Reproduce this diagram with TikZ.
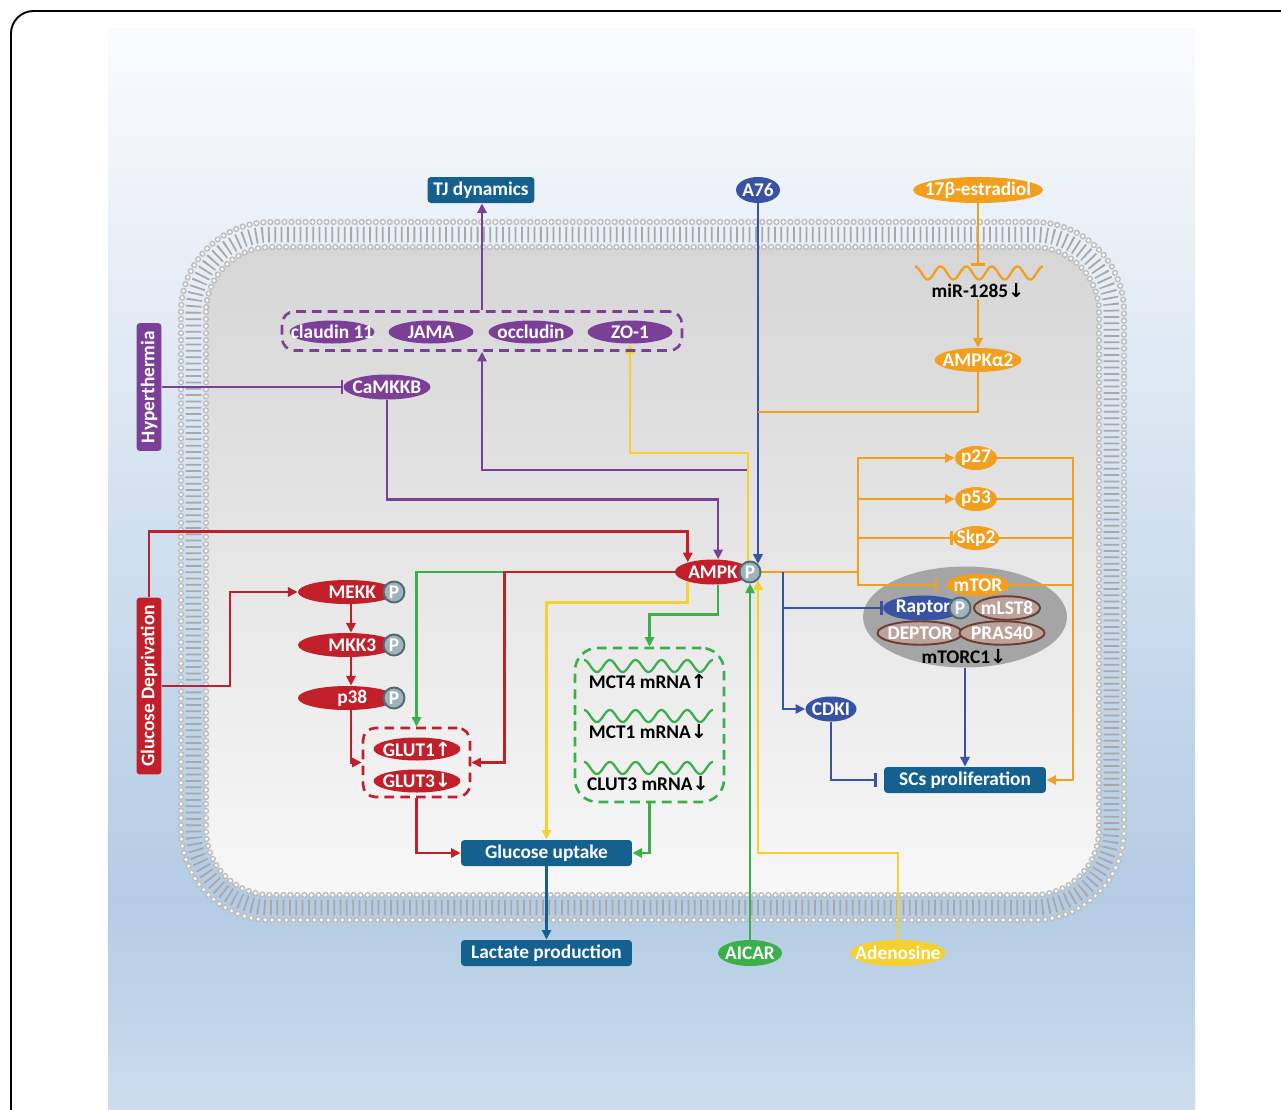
\documentclass[tikz,border=0pt]{standalone}
\usepackage{fontspec}
\setmainfont{Carlito}
\newfontfamily\arrfont{DejaVu Sans}
\usepackage{tikz}
\usetikzlibrary{arrows.meta,calc,shapes.geometric}

\definecolor{boxblue}{RGB}{20,96,143}
\definecolor{nodeblue}{RGB}{56,83,164}
\definecolor{ampred}{RGB}{193,32,42}
\definecolor{pathpurple}{RGB}{124,63,152}
\definecolor{pathgreen}{RGB}{59,176,74}
\definecolor{pathorange}{RGB}{242,159,29}
\definecolor{pathyellow}{RGB}{246,208,47}
\definecolor{pfill}{RGB}{159,179,186}
\definecolor{pedge}{RGB}{79,106,116}
\definecolor{cxfill}{RGB}{187,163,156}
\definecolor{cxedge}{RGB}{109,61,51}
\definecolor{cxgray}{RGB}{165,165,165}
\definecolor{bgtop}{RGB}{250,251,253}
\definecolor{bgmid}{RGB}{179,204,228}
\definecolor{bgbot}{RGB}{204,220,236}
\definecolor{celltop}{RGB}{214,214,214}
\definecolor{cellbot}{RGB}{247,247,248}
\definecolor{lipid}{RGB}{188,188,188}
\definecolor{lipidtail}{RGB}{168,168,168}

\pgfdeclarelayer{back}
\pgfdeclarelayer{links}
\pgfsetlayers{back,links,main}

\newcommand{\tx}[1]{\makebox[0pt]{#1}}
\newcommand{\up}{{\arrfont\bfseries ↑}}
\newcommand{\dn}{{\arrfont\bfseries ↓}}

\begin{document}
\begin{tikzpicture}[x=0.02cm, y=-0.02cm,
    font=\fontsize{11}{13}\selectfont\bfseries,
    pill/.style={ellipse, inner sep=0pt, fill=#1, text=white, minimum height=0.48cm},
    pbox/.style={rectangle, rounded corners=2pt, fill=#1, text=white, minimum height=0.52cm, inner sep=0pt},
    phos/.style={circle, fill=pfill, draw=pedge, line width=1.1pt, text=white, minimum size=0.42cm, inner sep=0pt},
    cplx/.style={ellipse, inner sep=0pt, fill=cxfill, draw=cxedge, line width=1.1pt, text=white, minimum height=0.47cm},
    dbox/.style={rectangle, draw=#1, rounded corners=0.25cm, line width=1.5pt, dash pattern=on 5.5pt off 3.5pt, inner sep=0pt},
    lbl/.style={text=black, inner sep=0.5pt},
    link/.style={draw=#1, line width=1.5pt},
    arr/.style={-{Triangle[length=5.5pt,width=5.2pt]}},
    inh/.style={-{Bar[width=8pt]}}]
\useasboundingbox (0,0) rectangle (1281,1109);

\begin{pgfonlayer}{back}
\fill[white] (0,0) rectangle (1281,1109);
\shade[top color=bgtop, bottom color=bgmid] (108,28) rectangle (1195,900);
\shade[top color=bgmid, bottom color=bgbot] (108,899) rectangle (1195,1109);
\begin{scope}
\clip (0,0) rectangle (1281,1109);
\draw[line width=1.1pt, rounded corners=0.45cm] (11,11) rectangle (1340,1170);
\end{scope}
\shade[top color=celltop, bottom color=cellbot, rounded corners=1.3cm] (206,247) rectangle (1099,895);
\draw[lipidtail, line width=9pt, dash pattern=on 1pt off 2.6pt, rounded corners=1.55cm] (193.5,234.5) rectangle (1111.5,907.5);
\draw[lipid, line width=3.6pt, line cap=round, dash pattern=on 0pt off 4pt, rounded corners=1.8cm] (181,222) rectangle (1124,920);
\draw[white, line width=2pt, line cap=round, dash pattern=on 0pt off 4pt, rounded corners=1.8cm] (181,222) rectangle (1124,920);
\draw[lipid, line width=3.6pt, line cap=round, dash pattern=on 0pt off 4pt, rounded corners=1.3cm] (206,247) rectangle (1099,895);
\draw[white, line width=2pt, line cap=round, dash pattern=on 0pt off 4pt, rounded corners=1.3cm] (206,247) rectangle (1099,895);
\node[ellipse, fill=cxgray, minimum width=4.08cm, minimum height=2.02cm, inner sep=0pt] (mtorc1) at (965,617) {};
\end{pgfonlayer}

\node[pbox=boxblue, minimum width=2.14cm] (tj) at (481,190) {TJ dynamics};
\node[pill=nodeblue, minimum width=0.88cm, minimum height=0.52cm] (a76) at (758,190) {\tx{A76}};
\node[pill=pathorange, minimum width=2.6cm, minimum height=0.52cm] (estr) at (978,190) {\tx{17β-estradiol}};

\draw[pathorange, line width=1.3pt] plot[domain=0:5, samples=121] ({915+25.6*\x},{273-6.5*cos(360*\x)});
\coordinate (mirtop) at (978,266);
\node[lbl] (mir) at (978,291) {miR-1285\dn};
\node[pill=pathorange, minimum width=1.74cm] (ampka2) at (978,360) {\tx{AMPKα2}};
\coordinate (a76join) at (758,412);

\node[dbox=pathpurple, minimum width=8cm, minimum height=0.78cm] (tjbox) at (482,331) {};
\node[pill=pathpurple, minimum width=1.7cm, minimum height=0.46cm] (cld) at (332,332) {\tx{claudin 11}};
\node[pill=pathpurple, minimum width=1.7cm, minimum height=0.46cm] (jama) at (431,332) {\tx{JAMA}};
\node[pill=pathpurple, minimum width=1.7cm, minimum height=0.46cm] (ocln) at (531,332) {\tx{occludin}};
\node[pill=pathpurple, minimum width=1.7cm, minimum height=0.46cm] (zo1) at (630,332) {\tx{ZO-1}};

\node[pbox=pathpurple, rotate=90, minimum width=2.56cm, minimum height=0.5cm] (hyper) at (149,387) {Hyperthermia};
\node[pill=pathpurple, minimum width=1.74cm, minimum height=0.5cm] (camkkb) at (387,387) {\tx{CaMKKB}};
\node[pbox=ampred, rotate=90, minimum width=3.54cm, minimum height=0.5cm] (gd) at (149,686) {Glucose Deprivation};

\node[pill=ampred, minimum width=1.96cm] (mekk) at (347,592) {\tx{\hspace{6pt}MEKK}};
\node[phos] (mekkp) at (394,592) {P};
\node[pill=ampred, minimum width=1.96cm] (mkk3) at (347,645) {\tx{\hspace{6pt}MKK3}};
\node[phos] (mkk3p) at (394,645) {P};
\node[pill=ampred, minimum width=1.96cm] (p38) at (347,698) {\tx{\hspace{6pt}p38}};
\node[phos] (p38p) at (394,698) {P};

\node[dbox=ampred, minimum width=2.14cm, minimum height=1.38cm] (glutbox) at (416.5,762.5) {};
\node[pill=ampred, minimum width=1.74cm, minimum height=0.46cm] (glut1) at (417,749) {\tx{GLUT1\up}};
\node[pill=ampred, minimum width=1.74cm, minimum height=0.46cm] (glut3) at (417,781) {\tx{GLUT3\dn}};

\node[pill=ampred, minimum width=1.52cm, minimum height=0.5cm] (ampk) at (713,572) {\tx{AMPK}};
\node[phos] (ampkp) at (750,572) {P};

\node[dbox=pathgreen, rounded corners=0.45cm, minimum width=2.98cm, minimum height=3.08cm] (mrnabox) at (649.5,725) {};
\draw[pathgreen, line width=1.3pt] plot[domain=0:5, samples=121] ({584+25.8*\x},{666-6*cos(360*\x)});
\draw[pathgreen, line width=1.3pt] plot[domain=0:5, samples=121] ({584+25.8*\x},{716-6*cos(360*\x)});
\draw[pathgreen, line width=1.3pt] plot[domain=0:5, samples=121] ({584+25.8*\x},{768-6*cos(360*\x)});
\node[lbl] (mct4) at (648,681) {MCT4 mRNA\up};
\node[lbl] (mct1) at (648,732) {MCT1 mRNA\dn};
\node[lbl] (clut3) at (648,784) {CLUT3 mRNA\dn};

\node[pbox=boxblue, minimum width=3.42cm] (gu) at (546.5,853) {Glucose uptake};
\node[pbox=boxblue, minimum width=3.42cm] (lp) at (546.5,953) {Lactate production};
\node[pill=pathgreen, minimum width=1.28cm, minimum height=0.52cm] (aicar) at (750,953) {\tx{AICAR}};
\node[pill=pathyellow, minimum width=1.92cm, minimum height=0.52cm] (adeno) at (898,953) {\tx{Adenosine}};

\node[pill=pathorange, minimum width=0.84cm] (p27) at (976,458) {\tx{p27}};
\node[pill=pathorange, minimum width=0.84cm] (p53) at (976,499) {\tx{p53}};
\node[pill=pathorange, minimum width=0.92cm] (skp2) at (976,538) {\tx{Skp2}};
\node[pill=pathorange, minimum width=1.26cm, minimum height=0.44cm] (mtor) at (978,585) {\tx{mTOR}};
\node[pill=nodeblue, minimum width=1.6cm, minimum height=0.5cm] (raptor) at (923,608) {\tx{Raptor}};
\node[cplx, minimum width=1.32cm] (mlst8) at (1007,608) {\tx{mLST8}};
\node[phos] (raptorp) at (960,608) {P};
\node[cplx, minimum width=1.7cm] (deptor) at (920,633) {\tx{DEPTOR}};
\node[cplx, minimum width=1.7cm] (pras40) at (1002,633) {\tx{PRAS40}};
\node[lbl] (mtorclbl) at (964,657) {mTORC1\dn};
\node[pill=nodeblue, minimum width=1.02cm, minimum height=0.5cm] (cdki) at (831,709) {\tx{CDKI}};
\node[pbox=boxblue, minimum width=3.24cm] (scs) at (965,780) {SCs proliferation};

\coordinate (ofork) at (858,572);
\coordinate (ofar) at (1073,780);
\coordinate (bfork) at (783,572);

\begin{pgfonlayer}{links}
\draw[link=pathpurple,arr] (tjbox.north) -- (tjbox.north |- tj.south);
\draw[link=pathpurple,inh] (hyper.south) -- (camkkb.west);
\draw[link=pathpurple,arr] (camkkb.south) |- ($(ampk.68)+(0,-60)$) -- (ampk.68);
\draw[link=pathpurple,arr] ($(ampkp.north)+(-2,0)$) |- ($(tjbox.south)+(0,118)$) -- (tjbox.south);
\draw[link=pathyellow,arr] ($(ampkp.north)+(-2,0)$) |- ($(zo1.south)+(0,109)$) -- (zo1.south);
\draw[link=pathyellow,arr] (ampk.-159) |- ($(gu.north)+(0,-237)$) -- (gu.north);
\draw[link=pathyellow,arr] (adeno.north) |- ($(ampkp.-45)+(0,273)$) -- (ampkp.-45);
\draw[link=pathgreen,arr] (aicar.north) -- (aicar.north |- ampkp.south);
\draw[link=pathgreen,arr] (ampk.west) -| (glutbox.north);
\draw[link=pathgreen,arr] (ampk.-68) |- ($(mrnabox.north)+(0,-32)$) -- (mrnabox.north);
\draw[link=pathgreen,arr] (mrnabox.south) |- (gu.east);
\draw[link=ampred,arr] (gd.east) |- ($(ampk.159)+(0,-31)$) -- (ampk.159);
\draw[link=ampred,arr] (gd.south) -- ++(68,0) |- (mekk.west);
\draw[link=ampred,arr] ($(mekk.south)+(4,0)$) -- ($(mkk3.north)+(4,0)$);
\draw[link=ampred,arr] ($(mkk3.south)+(4,0)$) -- ($(p38.north)+(4,0)$);
\draw[link=ampred,arr] ($(p38.south)+(4,0)$) |- (glutbox.west);
\draw[link=ampred,arr] (ampk.west) -| ($(glutbox.east)+(33,0)$) -- (glutbox.east);
\draw[link=ampred,arr] (glutbox.south) |- (gu.west);
\draw[link=boxblue,arr] (gu.south) -- (lp.north);
\draw[link=nodeblue,arr] (a76.south) -- (a76.south |- ampkp.45);
\draw[link=pathorange,inh] (estr.south) -- (mirtop);
\draw[link=pathorange,arr] (mir.south) -- (ampka2.north);
\draw[link=pathorange] (ampka2.south) |- (a76join);
\draw[link=pathorange] (ampkp.east) -- (ofork);
\draw[link=pathorange,arr] (ofork) |- (p27.west);
\draw[link=pathorange,arr] (ofork) |- (p53.west);
\draw[link=pathorange,inh] (ofork) |- (skp2.west);
\draw[link=pathorange,inh,shorten >=5pt] (ofork) |- (mtor.west);
\draw[link=pathorange,arr] (p27.east) -| (ofar) -- (scs.east);
\draw[link=pathorange] (p53.east) -- (p53.east -| ofar);
\draw[link=pathorange] (skp2.east) -- (skp2.east -| ofar);
\draw[link=pathorange] (mtor.east) -- (mtor.east -| ofar);
\draw[link=nodeblue,arr] (bfork) |- (cdki.west);
\draw[link=nodeblue,inh] (bfork |- raptor.west) -- (raptor.west);
\draw[link=nodeblue,inh,shorten >=4pt] (cdki.south) |- (scs.west);
\draw[link=nodeblue,arr] (mtorc1.south) -- (mtorc1.south |- scs.north);
\end{pgfonlayer}
\end{tikzpicture}
\end{document}
